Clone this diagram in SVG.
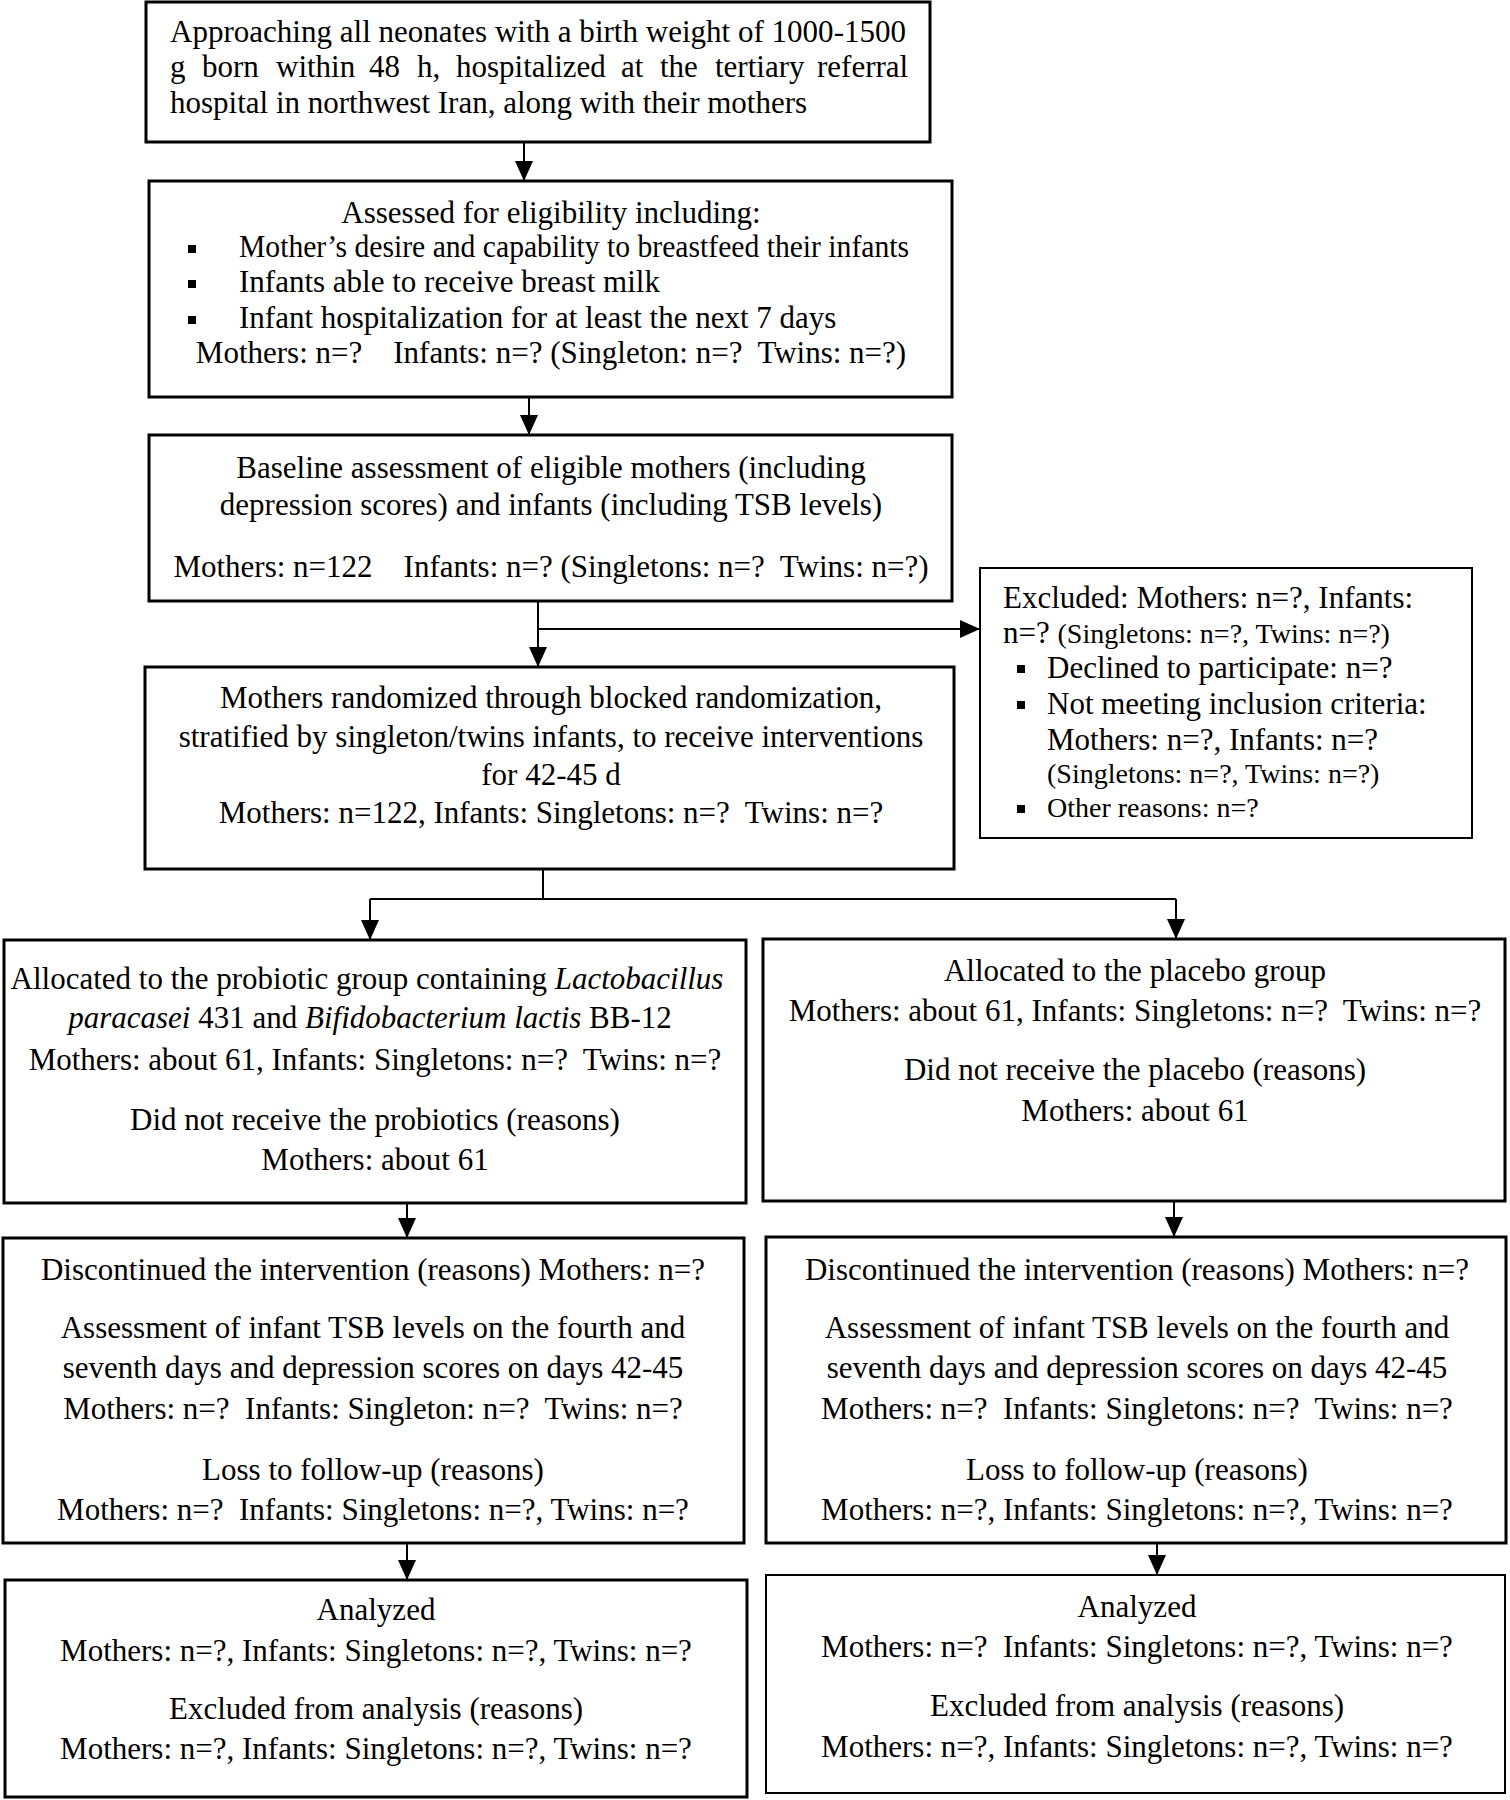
<svg xmlns="http://www.w3.org/2000/svg" width="1510" height="1800" viewBox="0 0 1510 1800">
<style>
text { font-family: "Liberation Serif", "Times New Roman", serif; font-size: 31px; fill: #000; white-space: pre; }
.c { text-anchor: middle; }
.sm { font-size: 28px; }
.box { fill: #fff; stroke: #000; stroke-width: 3; }
.thin { stroke-width: 2; }
.con { fill: none; stroke: #000; stroke-width: 2; }
.bul { fill: #000; }
</style>
<defs>
<marker id="ah" markerUnits="userSpaceOnUse" markerWidth="20" markerHeight="18" refX="20" refY="9" orient="auto">
<path d="M0,0 L20,9 L0,18 Z" fill="#000"/>
</marker>
</defs>
<rect width="1510" height="1800" fill="#fff"/>

<g id="connectors">
<path class="con" d="M524,142 V181" marker-end="url(#ah)"/>
<path class="con" d="M529,397 V435" marker-end="url(#ah)"/>
<path class="con" d="M538,601 V667" marker-end="url(#ah)"/>
<path class="con" d="M538,629 H980" marker-end="url(#ah)"/>
<path class="con" d="M543,869 V899 M370,899 H1176"/>
<path class="con" d="M370,899 V940" marker-end="url(#ah)"/>
<path class="con" d="M1176,899 V939" marker-end="url(#ah)"/>
<path class="con" d="M407,1203 V1238" marker-end="url(#ah)"/>
<path class="con" d="M1174,1201 V1237" marker-end="url(#ah)"/>
<path class="con" d="M407,1543 V1580" marker-end="url(#ah)"/>
<path class="con" d="M1157,1543 V1575" marker-end="url(#ah)"/>
</g>

<g id="n1">
<rect class="box" x="146" y="2" width="784" height="140"/>
<text x="170" y="42" textLength="736" lengthAdjust="spacing">Approaching all neonates with a birth weight of 1000-1500</text>
<text y="77"><tspan x="170">g</tspan><tspan x="202">born</tspan><tspan x="276">within</tspan><tspan x="369">48</tspan><tspan x="417">h,</tspan><tspan x="456">hospitalized</tspan><tspan x="621">at</tspan><tspan x="660">the</tspan><tspan x="715">tertiary</tspan><tspan x="817">referral</tspan></text>
<text x="170" y="113">hospital in northwest Iran, along with their mothers</text>
</g>

<g id="n2">
<rect class="box" x="149" y="181" width="803" height="216"/>
<text class="c" x="551" y="223">Assessed for eligibility including:</text>
<rect class="bul" x="188" y="245" width="8" height="8"/>
<text x="239" y="257" textLength="670" lengthAdjust="spacingAndGlyphs">Mother’s desire and capability to breastfeed their infants</text>
<rect class="bul" x="188" y="280" width="8" height="8"/>
<text x="239" y="292">Infants able to receive breast milk</text>
<rect class="bul" x="188" y="316" width="8" height="8"/>
<text x="239" y="328">Infant hospitalization for at least the next 7 days</text>
<text class="c" x="551" y="363">Mothers: n=?    Infants: n=? (Singleton: n=?  Twins: n=?)</text>
</g>

<g id="n3">
<rect class="box" x="149" y="435" width="803" height="166"/>
<text class="c" x="551" y="478">Baseline assessment of eligible mothers (including</text>
<text class="c" x="551" y="515">depression scores) and infants (including TSB levels)</text>
<text class="c" x="551" y="577">Mothers: n=122    Infants: n=? (Singletons: n=?  Twins: n=?)</text>
</g>

<g id="n4">
<rect class="box" x="145" y="667" width="809" height="202"/>
<text class="c" x="551" y="708">Mothers randomized through blocked randomization,</text>
<text class="c" x="551" y="747">stratified by singleton/twins infants, to receive interventions</text>
<text class="c" x="551" y="785">for 42-45 d</text>
<text class="c" x="551" y="823">Mothers: n=122, Infants: Singletons: n=?  Twins: n=?</text>
</g>

<g id="excluded">
<rect class="box thin" x="980" y="568" width="492" height="270"/>
<text x="1003" y="608">Excluded: Mothers: n=?, Infants:</text>
<text x="1003" y="643">n=? <tspan class="sm">(Singletons: n=?, Twins: n=?)</tspan></text>
<rect class="bul" x="1017" y="665" width="8" height="8"/>
<text x="1047" y="678">Declined to participate: n=?</text>
<rect class="bul" x="1017" y="701" width="8" height="8"/>
<text x="1047" y="714">Not meeting inclusion criteria:</text>
<text x="1047" y="750">Mothers: n=?, Infants: n=?</text>
<text class="sm" x="1047" y="783">(Singletons: n=?, Twins: n=?)</text>
<rect class="bul" x="1017" y="805" width="8" height="8"/>
<text class="sm" x="1047" y="817">Other reasons: n=?</text>
</g>

<g id="n5">
<rect class="box" x="4" y="940" width="742" height="263"/>
<text class="c" x="367" y="989">Allocated to the probiotic group containing <tspan font-style="italic">Lactobacillus</tspan></text>
<text class="c" x="370" y="1028"><tspan font-style="italic">paracasei</tspan> 431 and <tspan font-style="italic">Bifidobacterium lactis</tspan> BB-12</text>
<text class="c" x="375" y="1070">Mothers: about 61, Infants: Singletons: n=?  Twins: n=?</text>
<text class="c" x="375" y="1130">Did not receive the probiotics (reasons)</text>
<text class="c" x="375" y="1170">Mothers: about 61</text>
</g>

<g id="n6">
<rect class="box" x="763" y="939" width="742" height="262"/>
<text class="c" x="1135" y="981">Allocated to the placebo group</text>
<text class="c" x="1135" y="1021">Mothers: about 61, Infants: Singletons: n=?  Twins: n=?</text>
<text class="c" x="1135" y="1080">Did not receive the placebo (reasons)</text>
<text class="c" x="1135" y="1121">Mothers: about 61</text>
</g>

<g id="n7">
<rect class="box" x="3" y="1238" width="741" height="305"/>
<text class="c" x="373" y="1280">Discontinued the intervention (reasons) Mothers: n=?</text>
<text class="c" x="373" y="1338">Assessment of infant TSB levels on the fourth and</text>
<text class="c" x="373" y="1378">seventh days and depression scores on days 42-45</text>
<text class="c" x="373" y="1419">Mothers: n=?  Infants: Singleton: n=?  Twins: n=?</text>
<text class="c" x="373" y="1480">Loss to follow-up (reasons)</text>
<text class="c" x="373" y="1520">Mothers: n=?  Infants: Singletons: n=?, Twins: n=?</text>
</g>

<g id="n8">
<rect class="box" x="766" y="1237" width="740" height="306"/>
<text class="c" x="1137" y="1280">Discontinued the intervention (reasons) Mothers: n=?</text>
<text class="c" x="1137" y="1338">Assessment of infant TSB levels on the fourth and</text>
<text class="c" x="1137" y="1378">seventh days and depression scores on days 42-45</text>
<text class="c" x="1137" y="1419">Mothers: n=?  Infants: Singletons: n=?  Twins: n=?</text>
<text class="c" x="1137" y="1480">Loss to follow-up (reasons)</text>
<text class="c" x="1137" y="1520">Mothers: n=?, Infants: Singletons: n=?, Twins: n=?</text>
</g>

<g id="n9">
<rect class="box" x="5" y="1580" width="742" height="217"/>
<text class="c" x="376" y="1620">Analyzed</text>
<text class="c" x="376" y="1661">Mothers: n=?, Infants: Singletons: n=?, Twins: n=?</text>
<text class="c" x="376" y="1719">Excluded from analysis (reasons)</text>
<text class="c" x="376" y="1759">Mothers: n=?, Infants: Singletons: n=?, Twins: n=?</text>
</g>

<g id="n10">
<rect class="box thin" x="766" y="1575" width="739" height="218"/>
<text class="c" x="1137" y="1617">Analyzed</text>
<text class="c" x="1137" y="1657">Mothers: n=?  Infants: Singletons: n=?, Twins: n=?</text>
<text class="c" x="1137" y="1716">Excluded from analysis (reasons)</text>
<text class="c" x="1137" y="1757">Mothers: n=?, Infants: Singletons: n=?, Twins: n=?</text>
</g>
</svg>
